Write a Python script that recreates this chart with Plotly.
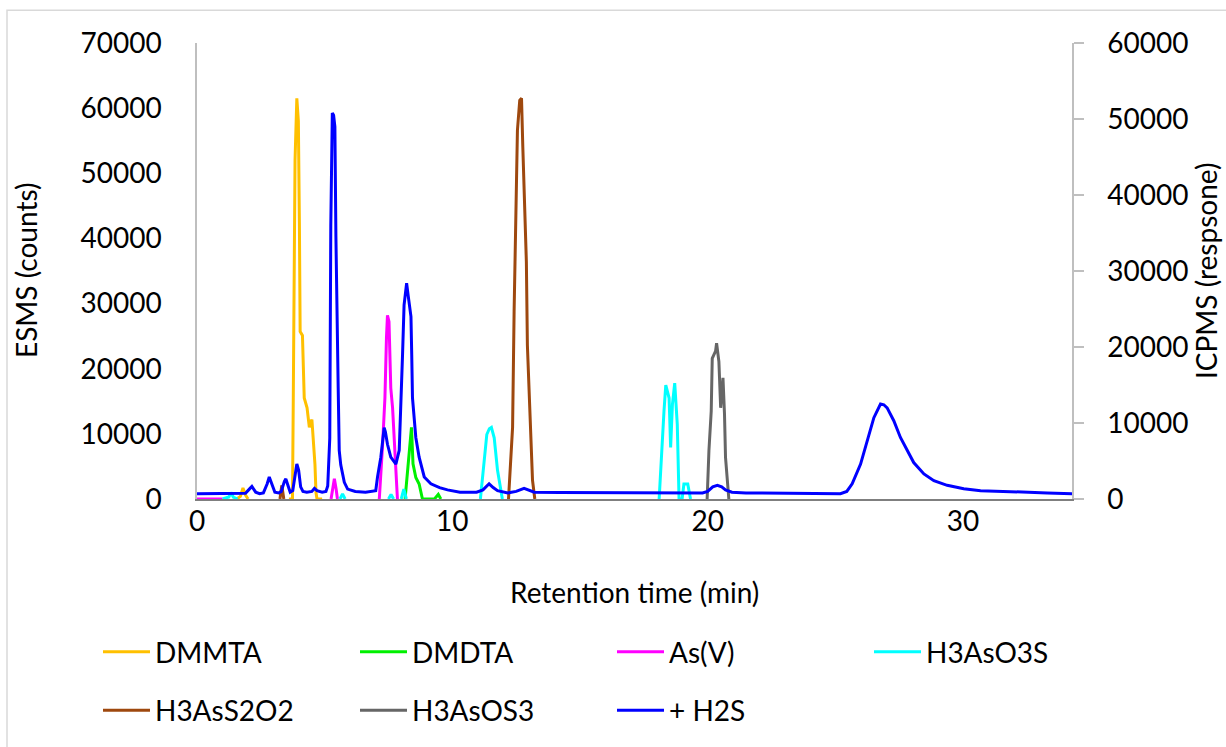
import plotly.graph_objects as go

# ---------------- data ----------------
N = None
dmmta_t = [1.55, 1.7, 1.8, 1.9, 2.0, N, 3.6, 3.74, 3.77, 3.84, 3.91, 3.97, 4.01, 4.04, 4.13, 4.2, 4.31, 4.4, 4.5, 4.57, 4.62, 4.66, 4.7, 4.9]
dmmta_v = [0, 400, 1700, 600, 0, N, 0, 0, 15000, 52000, 61500, 58000, 42500, 25700, 25100, 15500, 14000, 11000, 12200, 8700, 5300, 1000, 0, 0]

dmdta_t = [8.15, 8.26, 8.35, 8.4, 8.46, 8.57, 8.7, 8.83, 9.3, 9.45, 9.55]
dmdta_v = [0, 5400, 9000, 11000, 5400, 3300, 2300, 0, 0, 700, 0]

asv_t = [0, 1.0, N, 5.25, 5.33, 5.38, 5.45, 5.5, N, 7.1, 7.14, 7.27, 7.36, 7.42, 7.46, 7.52, 7.59, 7.66, 7.72, 7.79, 7.85]
asv_v = [0, 0, N, 0, 2000, 3100, 1500, 0, N, 0, 0, 8400, 15500, 24700, 28200, 27200, 17000, 14000, 9900, 5300, 0]

h3aso3s_t = [1.0, 1.25, 1.33, 1.42, 1.59, N, 5.6, 5.7, 5.8, N, 7.5, 7.6, 7.7, N, 8.0, 8.1, 8.2, N,
             11.1, 11.25, 11.35, 11.45, 11.53, 11.64, 11.77, 11.96, N,
             18.1, 18.19, 18.29, 18.36, 18.49, 18.55, 18.62, 18.71, 18.81, 18.88, 19.0, 19.07, 19.22, 19.33]
h3aso3s_v = [0, 300, 1000, 300, 0, N, 0, 800, 0, N, 0, 700, 0, N, 0, 1500, 0, N,
             0, 5900, 9900, 10800, 11000, 9400, 4400, 0, N,
             0, 7400, 13500, 17500, 15500, 7900, 14500, 17800, 11500, 0, 0, 2300, 2300, 0]

h3ass2o2_t = [3.25, 3.32, 3.4, N, 12.2, 12.36, 12.42, 12.49, 12.55, 12.64, 12.71, 12.76, 12.81, 12.9, 12.94, 13.03, 13.14, 13.23]
h3ass2o2_v = [0, 2100, 0, N, 0, 11000, 28800, 47000, 56600, 61200, 61500, 54100, 46500, 36400, 23600, 13500, 2900, 0]

h3asos3_t = [19.98, 20.05, 20.14, 20.18, 20.31, 20.35, 20.44, 20.51, 20.6, 20.66, 20.7, 20.83]
h3asos3_v = [0, 7400, 13500, 21600, 22700, 23900, 21100, 14000, 18600, 13000, 6400, 0]

h2s_t = [0, 1.0, 1.3, 1.6, 1.9, 2.05, 2.15, 2.3, 2.45, 2.6, 2.75, 2.83, 2.92, 3.05, 3.2, 3.3, 3.42, 3.48, 3.56,
         3.65, 3.75, 3.85, 3.91, 3.98, 4.06, 4.15, 4.3, 4.5, 4.6, 4.7, 4.9, 5.05, 5.12, 5.2, 5.24, 5.3, 5.35,
         5.4, 5.44, 5.53, 5.57, 5.63, 5.7, 5.77, 5.9, 6.2, 6.6, 7.0, 7.07, 7.2, 7.3, 7.33, 7.38, 7.46, 7.59,
         7.79, 7.92, 7.98, 8.05, 8.11, 8.17, 8.21, 8.27, 8.34, 8.38, 8.41, 8.44, 8.57, 8.7, 8.9, 9.16, 9.5,
         9.81, 10.3, 10.95, 11.2, 11.44, 11.6, 11.77, 12.17, 12.5, 12.81, 13.0, 13.21, 14.2, 17.0, 19.8, 20.0,
         20.2, 20.38, 20.55, 20.7, 20.95, 21.5, 25.2, 25.45, 25.66, 25.99, 26.25, 26.51, 26.77, 26.9, 27.03,
         27.29, 27.55, 27.82, 28.07, 28.47, 28.86, 29.38, 30.03, 30.69, 32.0, 33.3, 34.27]
h2s_v = [700, 700, 750, 700, 750, 1300, 1650, 900, 700, 800, 2000, 2900, 2000, 900, 800, 1000, 2300, 2650, 1800,
         900, 1100, 3500, 4600, 3800, 1600, 1000, 900, 1000, 1400, 1100, 900, 1000, 1700, 8000, 36000, 50800, 50500,
         49000, 34600, 14600, 6400, 4500, 3300, 2200, 1300, 1000, 900, 1100, 2900, 5500, 8500, 9400, 8800, 7200, 5500,
         4600, 6400, 11600, 19000, 25500, 27500, 28400, 26800, 25000, 24000, 19000, 13300, 8100, 5500, 2900, 2000, 1500,
         1200, 900, 900, 1200, 2000, 1500, 1100, 800, 1000, 1400, 1200, 900, 850, 800, 800, 1000,
         1600, 1800, 1600, 1200, 900, 800, 700, 1000, 2000, 4600, 7700, 10700, 12500, 12400, 12000,
         10300, 8100, 6400, 4800, 3300, 2400, 1800, 1350, 1100, 900, 800, 700]

series = [
    ("DMMTA", dmmta_t, dmmta_v, "#FFC000", "y", "legend"),
    ("DMDTA", dmdta_t, dmdta_v, "#00F000", "y", "legend"),
    ("As(V)", asv_t, asv_v, "#FF00FF", "y", "legend"),
    ("H3AsO3S", h3aso3s_t, h3aso3s_v, "#00FFFF", "y", "legend"),
    ("H3AsS2O2", h3ass2o2_t, h3ass2o2_v, "#9E480E", "y", "legend2"),
    ("H3AsOS3", h3asos3_t, h3asos3_v, "#666666", "y", "legend2"),
    ("+ H2S", h2s_t, h2s_v, "#0000FF", "y2", "legend2"),
]

x_ticks = [0, 10, 20, 30]
y1_ticks = [0, 10000, 20000, 30000, 40000, 50000, 60000, 70000]
y2_ticks = [0, 10000, 20000, 30000, 40000, 50000, 60000]

FONT = "Lato"
fig = go.Figure()
for name, t, v, col, yax, lg in series:
    fig.add_trace(go.Scatter(x=t, y=v, name=name, mode="lines", yaxis=yax, legend=lg,
                             line=dict(color=col, width=3), connectgaps=False))

W, H = 1226, 747
L, R, T, B = 197, 154, 43, 245
pw, ph = W - L - R, H - T - B


def px(xp):
    return (xp - L) / pw


def py(yp):
    return (H - B - yp) / ph


legend_common = dict(orientation="h", font=dict(family=FONT, size=28, color="#000000"),
                     itemwidth=47, entrywidth=195, entrywidthmode="pixels",
                     xanchor="left", yanchor="middle", bgcolor="rgba(0,0,0,0)",
                     traceorder="normal", itemclick=False)

fig.update_layout(
    width=W, height=H,
    margin=dict(l=L, r=R, t=T, b=B, pad=0),
    paper_bgcolor="white", plot_bgcolor="white",
    font=dict(family=FONT, size=28, color="#000000"),
    xaxis=dict(range=[0, 34.27], tickvals=x_ticks, showgrid=False, zeroline=False,
               showline=True, linecolor="#7F7F7F", linewidth=2, ticks="",
               ticklabelstandoff=-4, layer="below traces"),
    yaxis=dict(range=[0, 70000], tickvals=y1_ticks, tickformat="d", showgrid=False, zeroline=False,
               showline=True, linecolor="#BFBFBF", linewidth=1.5, ticks="",
               ticklabelstandoff=28, layer="below traces"),
    yaxis2=dict(range=[0, 60000], tickvals=y2_ticks, tickformat="d", overlaying="y", side="right",
                showgrid=False, zeroline=False, showline=True, linecolor="#BFBFBF",
                linewidth=1.5, ticks="outside", ticklen=10, tickcolor="#BFBFBF",
                tickwidth=1.5, ticklabelstandoff=18, layer="below traces"),
    legend=dict(x=px(98), y=py(656), **legend_common),
    legend2=dict(x=px(98), y=py(715), **legend_common),
    showlegend=True,
)

fig.add_annotation(text="Retention time (min)", xref="paper", yref="paper",
                   x=0.5, y=py(596), showarrow=False, xanchor="center", yanchor="middle",
                   font=dict(family=FONT, size=28, color="#000000"))
fig.add_annotation(text="ESMS (counts)", xref="paper", yref="paper", textangle=-90,
                   x=px(26), y=0.5, showarrow=False, xanchor="center", yanchor="middle",
                   font=dict(family=FONT, size=28, color="#000000"))
fig.add_annotation(text="ICPMS (respsone)", xref="paper", yref="paper", textangle=-90,
                   x=px(1206), y=0.5, showarrow=False, xanchor="center", yanchor="middle",
                   font=dict(family=FONT, size=28, color="#000000"))

fig.add_shape(type="rect", xref="paper", yref="paper",
              x0=px(7), x1=px(1240), y0=py(760), y1=py(10),
              line=dict(color="#D9D9D9", width=1.5), fillcolor="rgba(0,0,0,0)", layer="below")

fig.write_html("out.html")
